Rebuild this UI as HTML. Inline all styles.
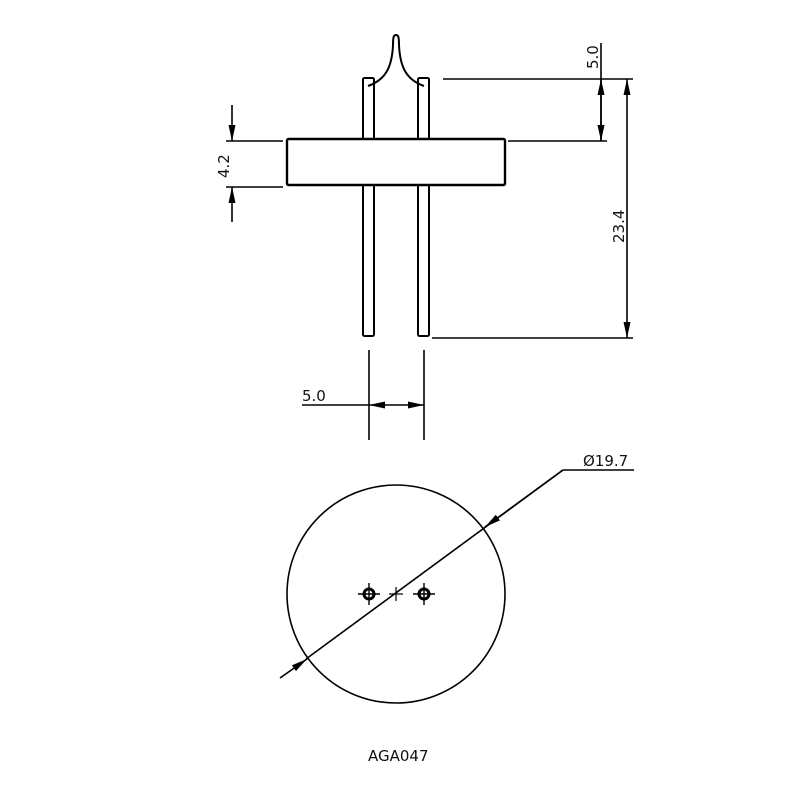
<!DOCTYPE html>
<html><head><meta charset="utf-8"><style>
html,body{margin:0;padding:0;background:#fff;width:800px;height:800px;overflow:hidden}
text{font-family:"DejaVu Sans","Liberation Sans",sans-serif;fill:#111}
</style></head><body>
<svg width="800" height="800" viewBox="0 0 800 800" xmlns="http://www.w3.org/2000/svg">
<defs>
<marker id="a" viewBox="0 0 16 7" refX="16" refY="3.5" markerWidth="16" markerHeight="7" markerUnits="userSpaceOnUse" orient="auto"><path d="M0,0 L16,3.5 L0,7 z" fill="#000"/></marker>
</defs>
<g stroke="#000" stroke-width="1.6" fill="none">
<rect x="363" y="78" width="11" height="258" rx="1.5" stroke-width="2"/>
<rect x="418" y="78" width="11" height="258" rx="1.5" stroke-width="2"/>
<rect x="287" y="139" width="218" height="46" rx="1.5" fill="#fff" stroke-width="2.4"/>
<path d="M368,86 C385,80 392,68 393,45 C393,36 394,35 396,35 C398,35 399,36 399,45 C400,68 407,80 424,86" stroke-width="2"/>
<line x1="232" y1="105" x2="232" y2="141" marker-end="url(#a)"/>
<line x1="232" y1="222" x2="232" y2="187" marker-end="url(#a)"/>
<line x1="226" y1="141" x2="283" y2="141"/>
<line x1="226" y1="187" x2="283" y2="187"/>
<line x1="443" y1="79" x2="633" y2="79"/>
<line x1="508" y1="141" x2="607" y2="141"/>
<line x1="601" y1="43" x2="601" y2="141"/>
<line x1="601" y1="110" x2="601" y2="79" marker-end="url(#a)"/>
<line x1="601" y1="110" x2="601" y2="141" marker-end="url(#a)"/>
<line x1="432" y1="338" x2="633" y2="338"/>
<line x1="627" y1="200" x2="627" y2="79" marker-end="url(#a)"/>
<line x1="627" y1="200" x2="627" y2="338" marker-end="url(#a)"/>
<line x1="369" y1="350" x2="369" y2="440"/>
<line x1="424" y1="350" x2="424" y2="440"/>
<line x1="302" y1="405" x2="369" y2="405"/>
<line x1="396" y1="405" x2="369" y2="405" marker-end="url(#a)"/>
<line x1="396" y1="405" x2="424" y2="405" marker-end="url(#a)"/>
<circle cx="396" cy="594" r="109"/>
<line x1="280" y1="678" x2="307" y2="659" marker-end="url(#a)"/>
<line x1="306" y1="659" x2="563" y2="470"/>
<line x1="563" y1="470" x2="485" y2="527" marker-end="url(#a)"/>
<line x1="563" y1="470" x2="634" y2="470"/>
<line x1="389" y1="594" x2="403" y2="594" stroke-width="1.2"/>
<line x1="396" y1="587" x2="396" y2="601" stroke-width="1.2"/>
<g stroke-width="1.4">
<line x1="358" y1="594" x2="380" y2="594"/><line x1="369" y1="583" x2="369" y2="605"/>
<line x1="413" y1="594" x2="435" y2="594"/><line x1="424" y1="583" x2="424" y2="605"/>
</g>
<circle cx="369" cy="594" r="5" stroke-width="3"/>
<circle cx="424" cy="594" r="5" stroke-width="3"/>
</g>
<text x="302" y="401" font-size="15">5.0</text>
<text x="583" y="466" font-size="15">Ø19.7</text>
<text x="368" y="761" font-size="15">AGA047</text>
<text transform="translate(598,69) rotate(-90)" font-size="15">5.0</text>
<text transform="translate(624,243) rotate(-90)" font-size="15">23.4</text>
<text transform="translate(229,178) rotate(-90)" font-size="15">4.2</text>
</svg>
</body></html>
